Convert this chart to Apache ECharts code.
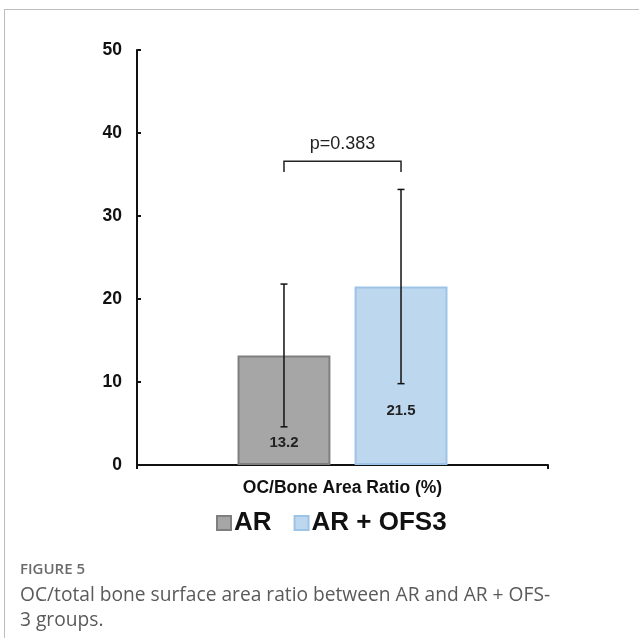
<!DOCTYPE html>
<html>
<head>
<meta charset="utf-8">
<script src="https://cdn.jsdelivr.net/npm/echarts@6/dist/echarts.min.js"></script>
<style>
html,body{margin:0;padding:0;background:#fff;}
#frame{position:absolute;left:4px;top:9px;width:700px;height:700px;border-left:1px solid #bdbdbd;border-top:1px solid #bdbdbd;}
#chart{position:absolute;left:0;top:0;width:639px;height:638px;}
</style>
</head>
<body>
<div id="frame"></div>
<div id="chart"></div>
<script>
const categories = ['OC/Bone Area Ratio (%)'];
const seriesNames = ['AR', 'AR + OFS3'];
const means = [13.2, 21.5];
const sds = [8.6, 11.7];
const yTicks = [0, 10, 20, 30, 40, 50];
const pText = 'p=0.383';
const bracketTop = 36.6;
const bracketLeg = 35.3;
const captionTitle = 'FIGURE 5';
const captionLines = ['OC/total bone surface area ratio between AR and AR + OFS-', '3 groups.'];

const BAR_FRAC = 0.226, GAP = 0.26;
function barOffset(api, idx) {
  const band = api.size([1, 0])[0];
  const bw = band * BAR_FRAC;
  const step = bw * (1 + GAP);
  return (idx - 0.5) * step;
}

const chart = echarts.init(document.getElementById('chart'));
chart.setOption({
  animation: false,
  grid: { left: 137, right: 91, top: 50, bottom: 173 },
  legend: {
    data: seriesNames,
    top: 510,
    left: 216,
    padding: 0,
    itemWidth: 14, itemHeight: 14, itemGap: 22,
    icon: 'rect',
    textStyle: { fontFamily: 'Liberation Sans, Arial', fontWeight: 'bold', fontSize: 26, color: '#111', padding: [0, 0, 0, -2] }
  },
  xAxis: {
    type: 'category',
    data: categories,
    axisLine: { lineStyle: { color: '#111', width: 2 } },
    axisTick: { show: true, inside: false, length: 4, lineStyle: { color: '#111', width: 2 } },
    axisLabel: { margin: 14, fontFamily: 'Liberation Sans, Arial', fontWeight: 'bold', fontSize: 17.5, color: '#111' }
  },
  yAxis: {
    type: 'value',
    min: yTicks[0], max: yTicks[yTicks.length - 1], interval: 10,
    splitLine: { show: false },
    axisLine: { show: true, lineStyle: { color: '#111', width: 2 } },
    axisTick: { show: true, inside: true, length: 4, lineStyle: { color: '#111', width: 2 } },
    axisLabel: { margin: 15, fontFamily: 'Liberation Sans, Arial', fontWeight: 'bold', fontSize: 17.5, color: '#111' }
  },
  series: [
    {
      name: seriesNames[0], type: 'bar', barWidth: (BAR_FRAC * 100) + '%', barGap: (GAP * 100) + '%',
      itemStyle: { color: '#a6a6a6', borderColor: '#7f7f7f', borderWidth: 2 },
      label: { show: true, position: 'insideBottom', distance: 15, fontFamily: 'Liberation Sans, Arial', fontWeight: 'bold', fontSize: 15, color: '#222' },
      data: [means[0]]
    },
    {
      name: seriesNames[1], type: 'bar', barWidth: (BAR_FRAC * 100) + '%', barGap: (GAP * 100) + '%',
      itemStyle: { color: '#bdd7ee', borderColor: '#9dc3e6', borderWidth: 2 },
      label: { show: true, position: 'insideBottom', distance: 47, fontFamily: 'Liberation Sans, Arial', fontWeight: 'bold', fontSize: 15, color: '#222' },
      data: [means[1]]
    },
    {
      type: 'custom', name: 'err', silent: true, z: 10,
      data: means.map((m, i) => [0, m - sds[i], m + sds[i], i]),
      renderItem: function (params, api) {
        const idx = api.value(3);
        const off = barOffset(api, idx);
        const lo = api.coord([api.value(0), api.value(1)]);
        const hi = api.coord([api.value(0), api.value(2)]);
        const x = lo[0] + off;
        const cap = 3.5;
        const st = { stroke: '#111', lineWidth: 1.5 };
        return { type: 'group', children: [
          { type: 'line', shape: { x1: x, y1: lo[1], x2: x, y2: hi[1] }, style: st },
          { type: 'line', shape: { x1: x - cap, y1: hi[1], x2: x + cap, y2: hi[1] }, style: st },
          { type: 'line', shape: { x1: x - cap, y1: lo[1], x2: x + cap, y2: lo[1] }, style: st }
        ]};
      }
    },
    {
      type: 'custom', name: 'bracket', silent: true, z: 10,
      data: [[0, bracketTop, bracketLeg]],
      renderItem: function (params, api) {
        const top = api.coord([api.value(0), api.value(1)]);
        const leg = api.coord([api.value(0), api.value(2)]);
        const x1 = top[0] + barOffset(api, 0);
        const x2 = top[0] + barOffset(api, 1);
        return { type: 'group', children: [
          { type: 'polyline', shape: { points: [[x1, leg[1]], [x1, top[1]], [x2, top[1]], [x2, leg[1]]] }, style: { stroke: '#222', lineWidth: 1.5, fill: null } },
          { type: 'text', style: { text: pText, x: (x1 + x2) / 2, y: top[1] - 8, align: 'center', verticalAlign: 'bottom', fontFamily: 'Liberation Sans, Arial', fontSize: 18, fill: '#222' } }
        ]};
      }
    }
  ],
  graphic: [
    { type: 'text', left: 20, top: 562, style: { text: captionTitle, fontFamily: 'Open Sans', fontWeight: 600, fontSize: 15, fill: '#6a6a6a' } },
    { type: 'text', left: 20, top: 583, style: { text: captionLines.join('\n'), lineHeight: 25, fontFamily: 'Open Sans', fontSize: 19.2, fill: '#5a5a5a' } }
  ]
});
</script>
</body>
</html>
